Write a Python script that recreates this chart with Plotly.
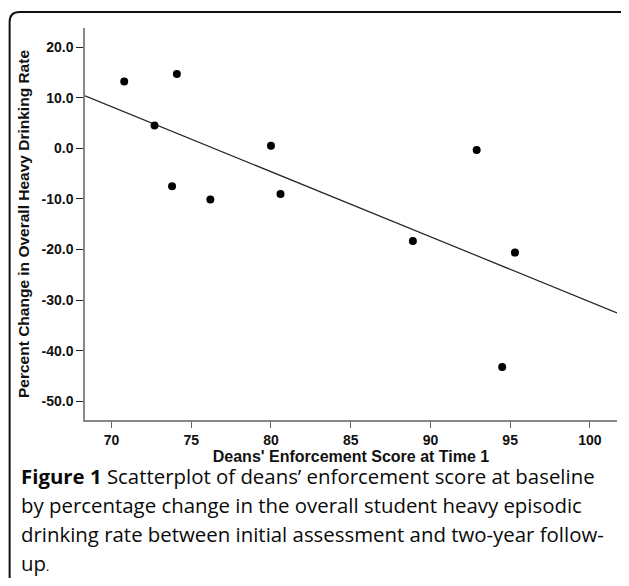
import numpy as np
import plotly.graph_objects as go

# Data
enforcement_score = [70.8, 74.1, 72.7, 73.8, 76.2, 80.0, 80.6, 92.9, 88.9, 95.3, 94.5]
pct_change = [13.2, 14.7, 4.5, -7.5, -10.1, 0.5, -9.0, -0.3, -18.3, -20.6, -43.2]

x_ticks = [70, 75, 80, 85, 90, 95, 100]
y_ticks = [20, 10, 0, -10, -20, -30, -40, -50]

x_range = [68.34, 101.7]
y_range = [-53.7, 23.8]

caption_lines = [
    "<b>Figure 1</b> Scatterplot of deans\u2019 enforcement score at baseline",
    "by percentage change in the overall student heavy episodic",
    "drinking rate between initial assessment and two-year follow-",
    "up<span style='font-size:12px'>.</span>",
]

# Linear fit
slope, intercept = np.polyfit(enforcement_score, pct_change, 1)
fit_x = np.array(x_range)
fit_y = slope * fit_x + intercept

# Page body has an 8px margin; figure sized so the page does not overflow
OFF = 8
W, H = 629 - 2 * OFF, 586 - 2 * OFF
plot_left, plot_right, plot_top, plot_bottom = 85.3, 616.7, 28, 420  # screen px
ml = plot_left - OFF
mr = W - (plot_right - OFF)
mt = plot_top - OFF
mb = H - (plot_bottom - OFF)
pw, ph = W - ml - mr, H - mt - mb

def px_x(p):
    return (p - OFF - ml) / pw

def px_y(p):
    return (H - mb - (p - OFF)) / ph

fig = go.Figure()
fig.add_trace(go.Scatter(x=fit_x, y=fit_y, mode="lines",
                         line=dict(color="#222222", width=1.2),
                         hoverinfo="skip", showlegend=False, cliponaxis=False))
fig.add_trace(go.Scatter(x=enforcement_score, y=pct_change, mode="markers",
                         marker=dict(color="black", size=8),
                         showlegend=False))

tick_font = dict(family="Liberation Sans, Arial", size=14, color="#111111", weight="bold")
xtitle_font = dict(family="Liberation Sans, Arial", size=16, color="#111111", weight="bold")
ytitle_font = dict(family="Liberation Sans, Arial", size=15.5, color="#111111", weight="bold")

fig.update_xaxes(range=x_range, tickvals=x_ticks, ticktext=[str(v) for v in x_ticks],
                 automargin=False,
                 showgrid=False, zeroline=False, showline=True, linecolor="#888888",
                 linewidth=1.5, ticks="outside", ticklen=6, tickcolor="#666666", tickwidth=1.2,
                 tickfont=tick_font,
                 title=dict(text="Deans' Enforcement Score at Time 1", font=xtitle_font, standoff=4))
fig.update_yaxes(range=y_range, tickvals=y_ticks, ticktext=[f"{v:.1f}" for v in y_ticks],
                 automargin=False,
                 showgrid=False, zeroline=False, showline=True, linecolor="#888888",
                 linewidth=1.5, ticks="outside", ticklen=7, tickcolor="#222222", tickwidth=1.2,
                 tickfont=tick_font,
                 title=dict(text="Percent Change in Overall Heavy Drinking Rate", font=ytitle_font, standoff=8))

# Rounded border around the figure (right and bottom edges fall outside the view)
x0, y0, x1, y1, r = px_x(10), px_y(12), px_x(640), px_y(600), 10
rx, ry = r / pw, r / ph
path = (f"M {x0+rx},{y0} L {x1-rx},{y0} Q {x1},{y0} {x1},{y0-ry} "
        f"L {x1},{y1+ry} Q {x1},{y1} {x1-rx},{y1} "
        f"L {x0+rx},{y1} Q {x0},{y1} {x0},{y1+ry} "
        f"L {x0},{y0-ry} Q {x0},{y0} {x0+rx},{y0} Z")
fig.add_shape(type="path", path=path, xref="paper", yref="paper",
              line=dict(color="#111111", width=2), layer="below")

caption_y = [476, 505, 534, 563]
for txt, yy in zip(caption_lines, caption_y):
    fig.add_annotation(text=txt, xref="paper", yref="paper", x=px_x(19), y=px_y(yy),
                       xanchor="left", yanchor="middle", showarrow=False, align="left",
                       font=dict(family="Open Sans, Noto Sans", size=20.4, color="#0a0a0a"))

fig.update_layout(width=W, height=H, margin=dict(l=ml, r=mr, t=mt, b=mb),
                  plot_bgcolor="white", paper_bgcolor="white")

fig.write_html("out.html")
